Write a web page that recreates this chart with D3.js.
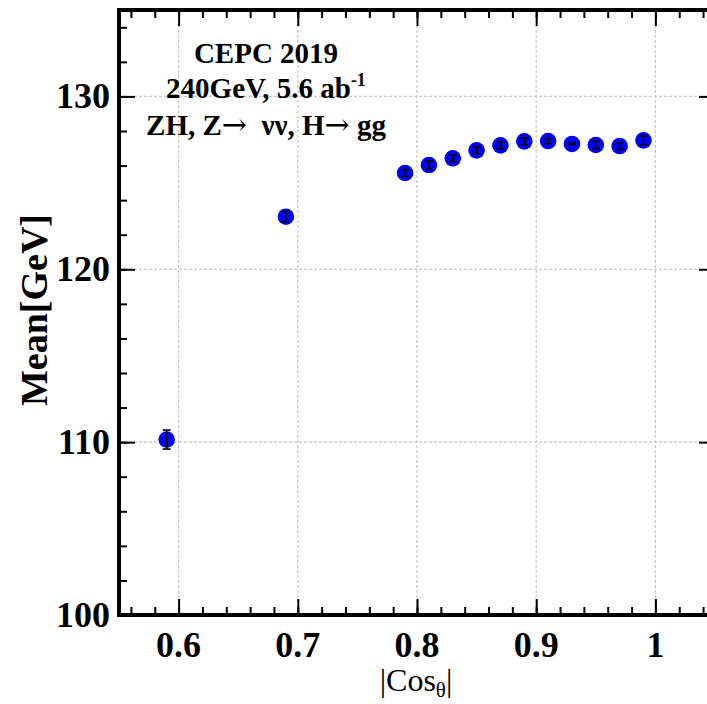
<!DOCTYPE html>
<html><head><meta charset="utf-8">
<script src="https://cdn.jsdelivr.net/npm/d3@7"></script>
<style>body{margin:0;background:#fff}svg{display:block}</style>
</head><body>
<script>
const cosTheta = [0.59, 0.69, 0.79, 0.81, 0.83, 0.85, 0.87, 0.89, 0.91, 0.93, 0.95, 0.97, 0.99];
const meanGeV  = [110.15, 123.04, 125.57, 126.03, 126.42, 126.88, 127.17, 127.40, 127.42, 127.25, 127.19, 127.13, 127.46];
const meanErr  = [0.55, 0.3, 0.2, 0.25, 0.2, 0.2, 0.2, 0.2, 0.15, 0.05, 0.2, 0.2, 0.25];
const xTicks = [0.6, 0.7, 0.8, 0.9, 1.0];
const xTickLabels = ["0.6", "0.7", "0.8", "0.9", "1"];
const yTicks = [100, 110, 120, 130];
const yTickLabels = ["100", "110", "120", "130"];
const headerLine1 = "CEPC 2019";
const headerLine2 = ["240GeV, 5.6 ab", "-1"];
const headerLine3 = ["ZH, Z", "\u2192", "  \u03BD\u03BD, H", "\u2192", " gg"];

const W = 707, H = 704;
const svg = d3.select("body").append("svg").attr("width", W).attr("height", H);
const x = d3.scaleLinear().domain([0.55, 1.05]).range([119, 715]);
const y = d3.scaleLinear().domain([100, 135]).range([615, 10]);
const font = "'Liberation Serif','Times New Roman',serif";

// grid
const grid = svg.append("g").attr("stroke", "#c8c8c8").attr("stroke-width", 1.2).attr("stroke-dasharray", "3,2");
grid.selectAll("line.gx").data(xTicks).join("line").attr("class","gx")
  .attr("x1", d => x(d)).attr("x2", d => x(d)).attr("y1", y(135)).attr("y2", y(100));
grid.selectAll("line.gy").data(yTicks.filter(d => d > 100)).join("line").attr("class","gy")
  .attr("x1", x(0.55)).attr("x2", x(1.05)).attr("y1", d => y(d)).attr("y2", d => y(d));

// axes with inward ticks
const xMinor = d3.range(0.56, 1.05, 0.02);
const yMinor = d3.range(102, 135, 2);
function ax(gen, tr) {
  const g = svg.append("g").attr("transform", tr).call(gen);
  g.select(".domain").remove();
  g.selectAll("line").attr("stroke", "#000").attr("stroke-width", 2);
  g.selectAll("text").remove();
  return g;
}
ax(d3.axisBottom(x).tickValues(xTicks).tickSize(-16), `translate(0,${y(100)})`);
ax(d3.axisBottom(x).tickValues(xMinor).tickSize(-8), `translate(0,${y(100)})`);
ax(d3.axisTop(x).tickValues(xTicks).tickSize(-16), `translate(0,${y(135)})`);
ax(d3.axisTop(x).tickValues(xMinor).tickSize(-8), `translate(0,${y(135)})`);
ax(d3.axisLeft(y).tickValues(yTicks).tickSize(-16), `translate(${x(0.55)},0)`);
ax(d3.axisLeft(y).tickValues(yMinor).tickSize(-8), `translate(${x(0.55)},0)`);
ax(d3.axisRight(y).tickValues(yTicks).tickSize(-16), `translate(${x(1.05)},0)`);
ax(d3.axisRight(y).tickValues(yMinor).tickSize(-8), `translate(${x(1.05)},0)`);

// frame
svg.append("rect").attr("x", x(0.55)).attr("y", y(135)).attr("width", x(1.05)-x(0.55)).attr("height", y(100)-y(135))
  .attr("fill", "none").attr("stroke", "#000").attr("stroke-width", 4);

// tick labels
svg.append("g").selectAll("text").data(xTicks).join("text")
  .attr("x", d => x(d)).attr("y", 657).attr("text-anchor", "middle")
  .attr("font-family", font).attr("font-weight", "bold").attr("font-size", 36)
  .text((d, i) => xTickLabels[i]);
svg.append("g").selectAll("text").data(yTicks).join("text")
  .attr("x", 110).attr("y", d => y(d) + 12).attr("text-anchor", "end")
  .attr("font-family", font).attr("font-weight", "bold").attr("font-size", 36)
  .text((d, i) => yTickLabels[i]);

// axis titles
const xt = svg.append("text").attr("x", 416).attr("y", 691).attr("text-anchor", "middle")
  .attr("font-family", font).attr("font-size", 32);
xt.append("tspan").text("|Cos");
xt.append("tspan").attr("font-size", 21).attr("dy", 6).text("\u03B8");
xt.append("tspan").attr("dy", -6).text("|");
svg.append("text").attr("transform", "translate(47,310) rotate(-90)").attr("text-anchor", "middle")
  .attr("font-family", font).attr("font-weight", "bold").attr("font-size", 38).text("Mean[GeV]");

// header
const hx = 266;
svg.append("text").attr("x", hx).attr("y", 63).attr("text-anchor", "middle")
  .attr("font-family", font).attr("font-weight", "bold").attr("font-size", 29).text(headerLine1);
const h2 = svg.append("text").attr("x", hx).attr("y", 98).attr("text-anchor", "middle")
  .attr("font-family", font).attr("font-weight", "bold").attr("font-size", 29);
h2.append("tspan").text(headerLine2[0]);
h2.append("tspan").attr("font-size", 18).attr("dy", -12).text(headerLine2[1]);
const h3 = svg.append("text").attr("x", hx).attr("y", 135).attr("text-anchor", "middle")
  .attr("font-family", font).attr("font-weight", "bold").attr("font-size", 29)
  .style("white-space", "pre");
headerLine3.forEach(t => {
  const s = h3.append("tspan").text(t);
  if (t === "\u2192") s.attr("font-family", "'DejaVu Serif',serif").attr("font-weight", "normal").attr("font-size", 30);
});

// points
const pts = cosTheta.map((c, i) => ({c, m: meanGeV[i], e: meanErr[i]}));
const pg = svg.append("g");
pg.selectAll("circle").data(pts).join("circle")
  .attr("cx", d => x(d.c)).attr("cy", d => y(d.m)).attr("r", 8.3).attr("fill", "#0000ff");
const eg = pg.selectAll("g.err").data(pts).join("g").attr("class","err")
  .attr("stroke", "#000").attr("stroke-width", 1.6);
eg.append("line").attr("x1", d => x(d.c)).attr("x2", d => x(d.c)).attr("y1", d => y(d.m - d.e)).attr("y2", d => y(d.m + d.e));
eg.append("line").attr("x1", d => x(d.c) - 4).attr("x2", d => x(d.c) + 4).attr("y1", d => y(d.m - d.e)).attr("y2", d => y(d.m - d.e));
eg.append("line").attr("x1", d => x(d.c) - 4).attr("x2", d => x(d.c) + 4).attr("y1", d => y(d.m + d.e)).attr("y2", d => y(d.m + d.e));
</script>
</body></html>
